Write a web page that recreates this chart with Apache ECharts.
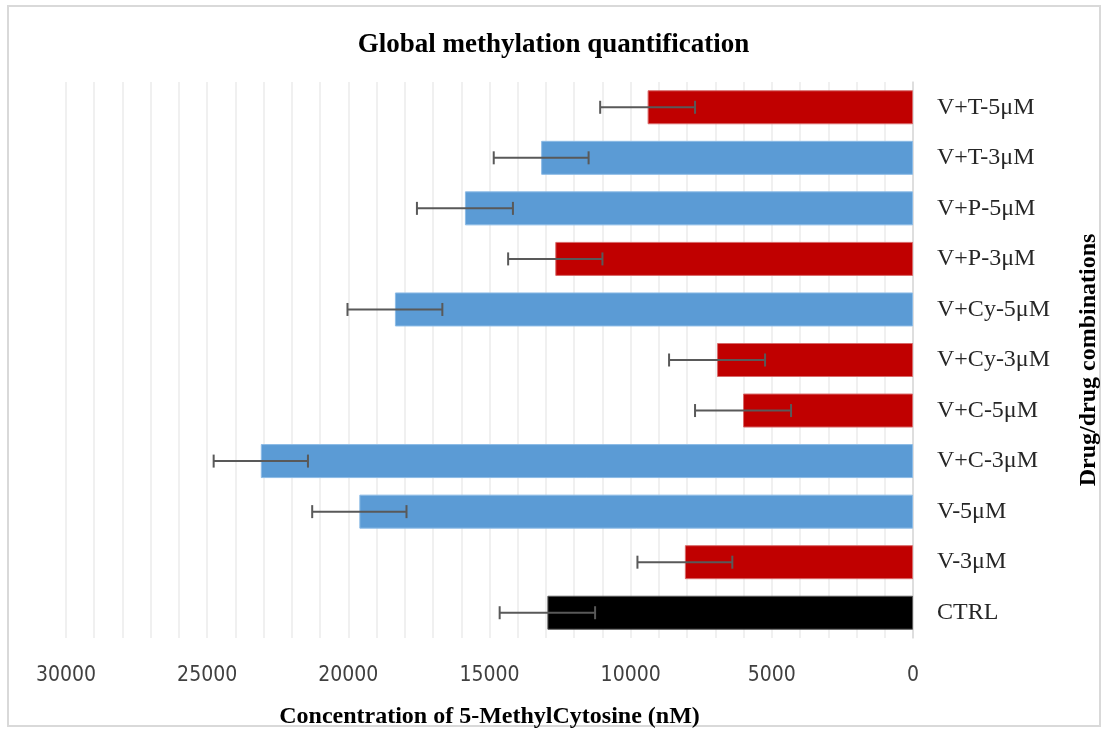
<!DOCTYPE html>
<html>
<head>
<meta charset="utf-8">
<script src="https://cdn.jsdelivr.net/npm/echarts@6/dist/echarts.min.js"></script>
<style>
  html, body { margin: 0; padding: 0; background: #fff; }
  #ec { width: 1107px; height: 733px; }
</style>
</head>
<body>
<div id="ec"></div>
<script>
// bottom to top, as the category axis draws them
var categories = ['CTRL', 'V-3μM', 'V-5μM', 'V+C-3μM', 'V+C-5μM', 'V+Cy-3μM', 'V+Cy-5μM', 'V+P-3μM', 'V+P-5μM', 'V+T-3μM', 'V+T-5μM']
var values = [12950, 8080, 19610, 23100, 6020, 6940, 18350, 12670, 15870, 13170, 9400]
var errors = [1690, 1680, 1670, 1670, 1700, 1700, 1680, 1670, 1700, 1680, 1680]
var groups = ['ctrl', 'red', 'blue', 'blue', 'red', 'red', 'blue', 'red', 'blue', 'blue', 'red']

var groupColor = {
  ctrl: '#000000',
  red: '#C00000',
  blue: '#5B9BD5'
}
var groupBorder = {
  ctrl: '#595959',
  red: '#d86a6a',
  blue: '#8cbbe6'
}

var chart = echarts.init(document.getElementById('ec'))

var barData = values.map(function (v, i) {
  return {
    value: v,
    itemStyle: {
      color: groupColor[groups[i]],
      borderColor: groupBorder[groups[i]],
      borderWidth: 1
    }
  }
})

var errData = values.map(function (v, i) {
  return [i, v - errors[i], v + errors[i]]
})

chart.setOption({
  animation: false,
  title: {
    text: 'Global methylation quantification',
    left: 'center',
    top: 27,
    textStyle: {
      fontFamily: 'Liberation Serif',
      fontWeight: 'bold',
      fontSize: 27,
      color: '#000'
    }
  },
  graphic: [
    {
      type: 'rect',
      shape: { x: 8, y: 6, width: 1092, height: 720 },
      style: { fill: 'none', stroke: '#d9d9d9', lineWidth: 2 },
      silent: true
    }
  ],
  grid: {
    left: 66,
    right: 194,
    top: 82,
    bottom: 95,
    containLabel: false,
    outerBoundsMode: 'none'
  },
  xAxis: {
    type: 'value',
    inverse: true,
    min: 0,
    max: 30000,
    interval: 5000,
    name: 'Concentration of 5-MethylCytosine (nM)',
    nameLocation: 'middle',
    nameGap: 67,
    nameTextStyle: {
      fontFamily: 'Liberation Serif',
      fontWeight: 'bold',
      fontSize: 24,
      color: '#000'
    },
    axisLine: { show: false },
    axisTick: { show: false },
    axisLabel: {
      margin: 27,
      fontFamily: '"DejaVu Sans Condensed", "DejaVu Sans", sans-serif',
      fontSize: 21,
      color: '#404040',
      formatter: function (v) { return String(v) }
    },
    splitLine: {
      show: true,
      lineStyle: { color: '#ebebeb', width: 1.5 }
    },
    minorTick: { show: false, splitNumber: 5 },
    minorSplitLine: {
      show: true,
      lineStyle: { color: '#ebebeb', width: 1.5 }
    }
  },
  yAxis: {
    type: 'category',
    data: categories,
    position: 'right',
    name: 'Drug/drug combinations',
    nameLocation: 'middle',
    nameGap: 164,
    nameRotate: 90,
    nameTextStyle: {
      fontFamily: 'Liberation Serif',
      fontWeight: 'bold',
      fontSize: 24,
      color: '#000'
    },
    axisLine: { show: true, lineStyle: { color: '#d9d9d9', width: 1.5 } },
    axisTick: { show: false },
    axisLabel: {
      margin: 24,
      align: 'left',
      fontFamily: 'Liberation Serif',
      fontSize: 24,
      color: '#262626'
    }
  },
  series: [
    {
      name: 'Concentration',
      type: 'bar',
      barWidth: 34,
      data: barData
    },
    {
      name: 'Error',
      type: 'custom',
      z: 10,
      data: errData,
      renderItem: function (params, api) {
        var idx = api.value(0)
        var lo = api.coord([api.value(1), idx])
        var hi = api.coord([api.value(2), idx])
        var cap = 6.5
        var style = { stroke: '#595959', lineWidth: 2 }
        return {
          type: 'group',
          children: [
            { type: 'line', shape: { x1: lo[0], y1: lo[1], x2: hi[0], y2: hi[1] }, style: style },
            { type: 'line', shape: { x1: lo[0], y1: lo[1] - cap, x2: lo[0], y2: lo[1] + cap }, style: style },
            { type: 'line', shape: { x1: hi[0], y1: hi[1] - cap, x2: hi[0], y2: hi[1] + cap }, style: style }
          ]
        }
      },
      encode: { x: [1, 2], y: 0 }
    }
  ]
}, true)
</script>
</body>
</html>
